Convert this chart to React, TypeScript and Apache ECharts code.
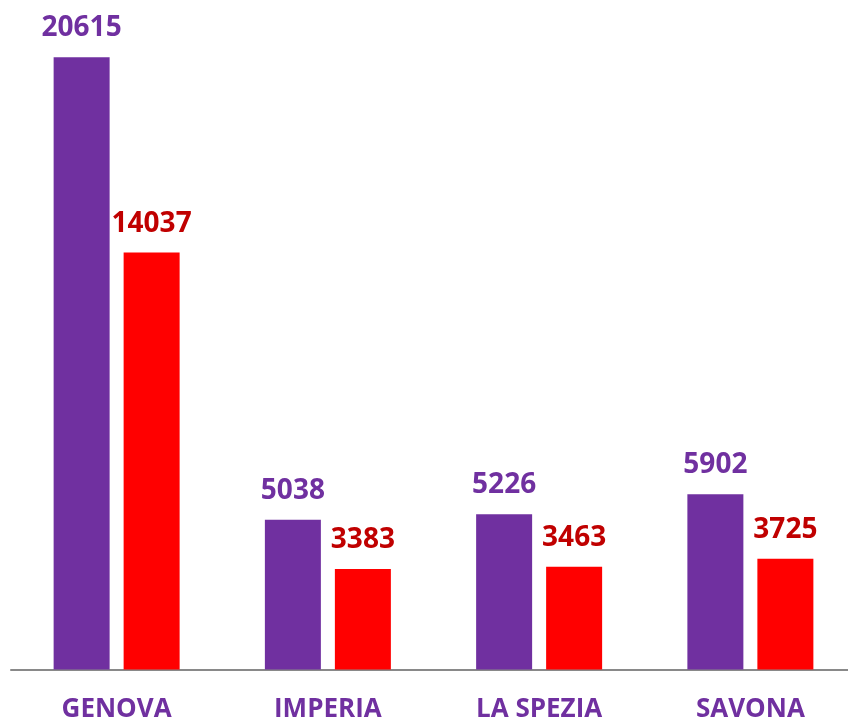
import React, { useEffect, useRef } from "react";
import * as echarts from "echarts";

const categories = ["GENOVA", "IMPERIA", "LA SPEZIA", "SAVONA"];
const seriesA = [20615, 5038, 5226, 5902];
const seriesB = [14037, 3383, 3463, 3725];

export default function App() {
  const ref = useRef<HTMLDivElement>(null);
  useEffect(() => {
    const chart = echarts.init(ref.current!, null, { renderer: "svg" });
    const font = "'Open Sans', sans-serif";
    chart.setOption({
      animation: false,
      grid: { left: 11, top: 16, width: 845, bottom: 53.5, containLabel: false },
      xAxis: {
        type: "category",
        data: categories,
        axisLine: { show: true, lineStyle: { color: "#898989", width: 2 } },
        axisTick: { show: false },
        axisLabel: {
          color: "#7030A0",
          fontWeight: "bold",
          fontSize: 26,
          fontFamily: font,
          margin: 24,
          interval: 0,
        },
      },
      yAxis: {
        type: "value",
        min: 0,
        max: 22000,
        show: false,
        splitLine: { show: false },
      },
      series: [
        {
          type: "bar",
          data: seriesA,
          barWidth: 56,
          barGap: "25%",
          itemStyle: { color: "#7030A0" },
          label: {
            show: true,
            position: "top",
            distance: 18,
            color: "#7030A0",
            fontWeight: "bold",
            fontSize: 28,
            fontFamily: font,
          },
        },
        {
          type: "bar",
          data: seriesB,
          barWidth: 56,
          barGap: "25%",
          itemStyle: { color: "#FF0000" },
          label: {
            show: true,
            position: "top",
            distance: 18,
            color: "#C00000",
            fontWeight: "bold",
            fontSize: 28,
            fontFamily: font,
          },
        },
      ],
    });
    return () => chart.dispose();
  }, []);
  return (
    <div style={{ position: "fixed", left: 0, top: 0, width: 848, height: 723, overflow: "hidden" }}>
      <div ref={ref} style={{ width: 860, height: 723 }} />
    </div>
  );
}
